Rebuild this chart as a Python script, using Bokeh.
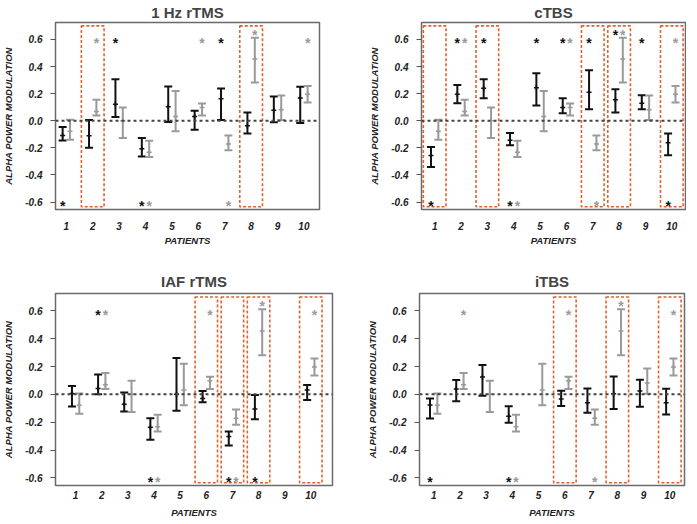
import numpy as np
from bokeh.plotting import figure
from bokeh.layouts import column, row
from bokeh.models import ColumnDataSource, Span, FixedTicker, PrintfTickFormatter, Range1d
from bokeh.transform import dodge
from bokeh.embed import file_html
from bokeh.resources import INLINE
from bokeh.core.properties import value

nan = np.nan

# ---------------- data ----------------
patients = [1, 2, 3, 4, 5, 6, 7, 8, 9, 10]
y_ticks = [-0.6, -0.4, -0.2, 0.0, 0.2, 0.4, 0.6]

# gray series (same in every panel)
gray_mean = [-0.078, 0.069, 0.000, -0.233, 0.032, 0.098, -0.171, 0.455, 0.081, 0.196]
gray_low = [-0.140, 0.039, -0.127, -0.267, -0.078, 0.039, -0.218, 0.282, 0.005, 0.135]
gray_high = [0.007, 0.154, 0.098, -0.147, 0.220, 0.127, -0.108, 0.612, 0.186, 0.257]
iaf_gray_present = [1, 1, 1, 1, 1, 1, 1, 1, 0, 1]

# 1 Hz rTMS (black)
hz_mean = [-0.108, -0.110, 0.122, -0.206, 0.103, 0.032, 0.162, -0.037, 0.078, 0.167]
hz_low = [-0.145, -0.200, 0.027, -0.264, -0.010, -0.066, 0.005, -0.095, -0.012, -0.017]
hz_high = [-0.047, 0.005, 0.306, -0.127, 0.252, 0.073, 0.238, 0.061, 0.179, 0.250]

# cTBS (black)
ctbs_mean = [-0.256, 0.195, 0.239, -0.144, 0.244, 0.098, 0.210, 0.154, 0.129, -0.163]
ctbs_low = [-0.341, 0.129, 0.166, -0.180, 0.112, 0.056, 0.085, 0.061, 0.085, -0.254]
ctbs_high = [-0.193, 0.263, 0.307, -0.090, 0.351, 0.166, 0.373, 0.232, 0.188, -0.095]

# IAF rTMS (black)
iaf_mean = [0.007, 0.043, -0.071, -0.236, 0.000, -0.029, -0.302, -0.105, nan, 0.031]
iaf_low = [-0.088, 0.000, -0.124, -0.326, -0.117, -0.057, -0.367, -0.179, nan, -0.040]
iaf_high = [0.060, 0.143, 0.014, -0.171, 0.262, 0.024, -0.267, -0.005, nan, 0.067]

# iTBS (black)
itbs_mean = [-0.077, 0.038, 0.125, -0.158, nan, -0.034, -0.060, 0.005, 0.024, -0.060]
itbs_low = [-0.173, -0.050, -0.010, -0.204, nan, -0.084, -0.132, -0.106, -0.089, -0.144]
itbs_high = [-0.029, 0.104, 0.211, -0.086, nan, 0.026, 0.043, 0.129, 0.105, 0.041]

# significance stars (patient numbers)
STAR_TOP, STAR_HIGH, STAR_BOT = 0.6, 0.665, -0.6
hz_stars = dict(top_black=[3, 7], top_gray=[2, 6, 10], high_black=[], high_gray=[8],
                bot_black=[1, 4], bot_gray=[4, 7])
ctbs_stars = dict(top_black=[2, 3, 5, 6, 7, 9], top_gray=[2, 6, 10], high_black=[8], high_gray=[8],
                  bot_black=[1, 4, 10], bot_gray=[4, 7])
iaf_stars = dict(top_black=[2], top_gray=[2, 6, 10], high_black=[], high_gray=[8],
                 bot_black=[4, 7, 8], bot_gray=[4, 7])
itbs_stars = dict(top_black=[], top_gray=[2, 6, 10], high_black=[], high_gray=[8],
                  bot_black=[1, 4], bot_gray=[4, 7])

# highlighted patients (dashed boxes)
hz_boxes = [2, 8]
ctbs_boxes = [1, 3, 7, 8, 10]
iaf_boxes = [6, 7, 8, 10]
itbs_boxes = [6, 8, 10]

# ---------------- styling ----------------
BLACK = "#111111"
GRAY = "#9a9a9a"
BOX = "#E0622E"
FONT = "Liberation Sans"
OFF = 0.14
BOX_TOP, BOX_BOT, BOX_W = 0.70, -0.635, 0.86


def src(mean, low, high, mask=None):
    rows = [(p, m, l, h) for i, (p, m, l, h) in enumerate(zip(patients, mean, low, high))
            if not np.isnan(m) and (mask is None or mask[i])]
    return ColumnDataSource(dict(x=[r[0] for r in rows], mean=[r[1] for r in rows],
                                 low=[r[2] for r in rows], high=[r[3] for r in rows]))


def draw_bars(p, s, color, off):
    xd = dodge("x", off)
    p.segment(x0=xd, y0="low", x1=xd, y1="high", source=s, line_color=color, line_width=2)
    p.scatter(x=xd, y="low", source=s, marker="dash", size=8, line_color=color, line_width=2)
    p.scatter(x=xd, y="high", source=s, marker="dash", size=8, line_color=color, line_width=2)
    p.scatter(x=xd, y="mean", source=s, marker="cross", size=5, line_color=color, line_width=1.5)


def draw_stars(p, xs, yv, color, off):
    if not xs:
        return
    s = ColumnDataSource(dict(x=xs, y=[yv] * len(xs)))
    p.text(x=dodge("x", off), y="y", source=s, text=value("*"), text_font=value(FONT),
           text_font_style="bold", text_font_size="14px", text_color=color,
           text_align="center", text_baseline="middle", y_offset=4)


def panel(title, mean, low, high, stars, boxes, xr, fw, fh, bl, br, bt, bb,
          toff, tstand, xl_stand, xal_stand, gray_mask=None):
    p = figure(x_range=Range1d(*xr), y_range=Range1d(-0.655, 0.725),
               frame_width=fw, frame_height=fh,
               min_border_left=bl, min_border_right=br, min_border_top=bt, min_border_bottom=bb,
               output_backend="svg", toolbar_location=None,
               background_fill_color="white", border_fill_color="white",
               outline_line_color="#6a6a6a", outline_line_width=1.5)
    p.title.text = title
    p.title.text_font = FONT
    p.title.text_font_size = "15px"
    p.title.text_font_style = "bold"
    p.title.align = "center"
    p.title.offset = toff
    p.title.standoff = tstand
    p.xgrid.visible = False
    p.ygrid.visible = False

    # dashed highlight boxes
    bs = ColumnDataSource(dict(x=boxes, y=[(BOX_TOP + BOX_BOT) / 2] * len(boxes)))
    p.rect(x="x", y="y", width=BOX_W, height=BOX_TOP - BOX_BOT, source=bs,
           fill_alpha=0, line_color=BOX, line_width=1.6, line_dash="3 2")

    p.add_layout(Span(location=0, dimension="width", line_color="#444444",
                      line_width=2, line_dash="3 3"))

    draw_bars(p, src(mean, low, high), BLACK, -OFF)
    draw_bars(p, src(gray_mean, gray_low, gray_high, gray_mask), GRAY, OFF)

    draw_stars(p, stars["top_black"], STAR_TOP, BLACK, -OFF)
    draw_stars(p, stars["top_gray"], STAR_TOP, GRAY, OFF)
    draw_stars(p, stars["high_black"], STAR_HIGH, BLACK, -OFF)
    draw_stars(p, stars["high_gray"], STAR_HIGH, GRAY, OFF)
    draw_stars(p, stars["bot_black"], STAR_BOT, BLACK, -OFF)
    draw_stars(p, stars["bot_gray"], STAR_BOT, GRAY, OFF)

    # axes
    xa = p.xaxis[0]
    xa.ticker = FixedTicker(ticks=patients)
    xa.axis_line_color = None
    xa.major_tick_line_color = None
    xa.minor_tick_line_color = None
    xa.major_tick_out = 0
    xa.major_tick_in = 0
    xa.major_label_standoff = xl_stand
    xa.major_label_text_font = FONT
    xa.major_label_text_font_style = "bold italic"
    xa.major_label_text_font_size = "10px"
    xa.major_label_text_color = "#222222"
    xa.axis_label = "PATIENTS"
    xa.axis_label_text_font = FONT
    xa.axis_label_text_font_style = "bold italic"
    xa.axis_label_text_font_size = "9.5px"
    xa.axis_label_text_color = "#222222"
    xa.axis_label_standoff = xal_stand

    ya = p.yaxis[0]
    ya.ticker = FixedTicker(ticks=y_ticks)
    ya.formatter = PrintfTickFormatter(format="%.1f")
    ya.axis_line_color = None
    ya.minor_tick_line_color = None
    ya.major_tick_out = 5
    ya.major_tick_in = 0
    ya.major_tick_line_color = "#555555"
    ya.major_label_standoff = 8
    ya.major_label_text_font = FONT
    ya.major_label_text_font_style = "bold italic"
    ya.major_label_text_font_size = "10px"
    ya.major_label_text_color = "#222222"
    ya.axis_label = "ALPHA POWER MODULATION"
    ya.axis_label_text_font = FONT
    ya.axis_label_text_font_style = "bold italic"
    ya.axis_label_text_font_size = "9.5px"
    ya.axis_label_text_color = "#222222"
    ya.axis_label_standoff = 8
    return p


p1 = panel("1 Hz rTMS", hz_mean, hz_low, hz_high, hz_stars, hz_boxes, (0.59, 10.59),
           264, 187, 50, 18, 18, 53, -14, 3, 12, 2)
p2 = panel("cTBS", ctbs_mean, ctbs_low, ctbs_high, ctbs_stars, ctbs_boxes, (0.50, 10.52),
           264, 187, 84, 1, 18, 53, -1, 3, 12, 2)
p3 = panel("IAF rTMS", iaf_mean, iaf_low, iaf_high, iaf_stars, iaf_boxes, (0.23, 10.83),
           277, 192, 50, 5, 31, 35, -20, 8, 5, 5, gray_mask=iaf_gray_present)
p4 = panel("iTBS", itbs_mean, itbs_low, itbs_high, itbs_stars, itbs_boxes, (0.46, 10.56),
           265, 192, 82, 2, 31, 35, 0, 8, 5, 5)

layout = column(row(p1, p2), row(p3, p4))

with open("out.html", "w") as f:
    f.write(file_html(layout, INLINE))
